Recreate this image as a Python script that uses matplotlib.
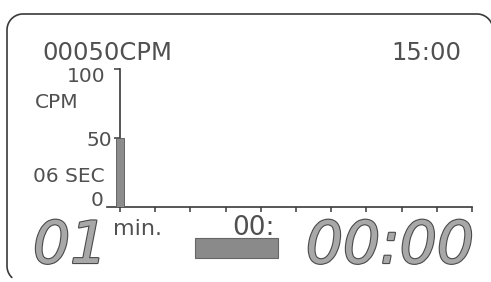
import matplotlib
matplotlib.use("Agg")
import matplotlib.pyplot as plt
from matplotlib.patches import Rectangle
import matplotlib.patheffects as pe
import numpy as np

# ---- data ----
bar_minutes = [0]
bar_cpm = [50]
x_ticks = [0, 1, 2, 3, 4, 5, 6, 7, 8, 9, 10]
y_ticks = [50, 100]
y_labels = ["50", "100"]
count_text = "00050CPM"
time_text = "15:00"
unit_text = "CPM"
interval_text = "06 SEC"
scale_text = "min."
sub_text = "00:"
big_left = "01"
big_right = "00:00"

W, H = 491, 282
fig = plt.figure(figsize=(W / 100, H / 100), dpi=100)
fig.patch.set_facecolor("white")

ink = "#3a3a3a"
txt = "#505050"
font = "DejaVu Sans"

# background/overlay axes in pixel coordinates
bg = fig.add_axes([0, 0, 1, 1])
bg.set_xlim(0, W)
bg.set_ylim(H, 0)
bg.axis("off")

# rounded frame: top edge, left edge, corners (right/bottom run off the picture)
r = 16
t = np.linspace(0, np.pi / 2, 30)
fx = np.concatenate([
    23 + r * np.sin(np.linspace(0.9, 0, 20)) * 0 + (23 - r * np.cos(np.linspace(0.8, 0, 20))) - 23,
])
# build path explicitly
seg_bl_t = np.linspace(0.8, 0, 20)
bl_x = 23 - r * np.cos(seg_bl_t)
bl_y = 266 + r * np.sin(seg_bl_t)
tl_x = 23 - r * np.cos(t)
tl_y = 30 - r * np.sin(t)
tr_t = np.linspace(0, np.pi / 2, 30)
tr_x = 477 + r * np.sin(tr_t)
tr_y = 30 - r * np.cos(tr_t)
path_x = np.concatenate([bl_x, tl_x, tr_x])
path_y = np.concatenate([bl_y, tl_y, tr_y])
bg.plot(path_x, path_y, color=ink, linewidth=1.2, solid_capstyle="round")

# chart axes
left_px, right_px, top_px, bot_px = 107, 472, 69, 207
ax = fig.add_axes([left_px / W, (H - bot_px) / H, (right_px - left_px) / W, (bot_px - top_px) / H])
ax.patch.set_alpha(0)
x0 = -13 / 35.2
ax.set_xlim(x0, 10)
ax.set_ylim(0, 100)
ax.bar(bar_minutes, bar_cpm, width=0.2, color="#8c8c8c", edgecolor="#555555", linewidth=0.6, zorder=3)
for s in ["top", "right"]:
    ax.spines[s].set_visible(False)
ax.spines["left"].set_position(("data", 0))
for s in ["left", "bottom"]:
    ax.spines[s].set_color(ink)
    ax.spines[s].set_linewidth(1.2)
ax.set_xticks(x_ticks)
ax.set_xticklabels([])
ax.set_yticks(y_ticks)
ax.set_yticklabels([])
ax.tick_params(axis="x", direction="out", length=3.8, width=1.1, color=ink)
ax.tick_params(axis="y", direction="out", length=4.5, width=1.1, color=ink)

# texts
bg.text(107, 60, count_text, fontsize=17.5, family=font, color=txt, ha="center", va="baseline")
bg.text(426, 60, time_text, fontsize=17.5, family=font, color=txt, ha="center", va="baseline")
bg.text(86, 82, y_labels[1], fontsize=14.5, family=font, color=txt, ha="center", va="baseline")
bg.text(35, 108, unit_text, fontsize=14.5, family=font, color=txt, ha="left", va="baseline")
bg.text(112, 146, y_labels[0], fontsize=14.5, family=font, color=txt, ha="right", va="baseline")
bg.text(33, 182, interval_text, fontsize=14.5, family=font, color=txt, ha="left", va="baseline")
bg.text(104, 206, "0", fontsize=14.5, family=font, color=txt, ha="right", va="baseline")
bg.text(138, 235, scale_text, fontsize=16, family=font, color=txt, ha="center", va="baseline")
bg.text(254, 235, sub_text, fontsize=19, family=font, color=txt, ha="center", va="baseline")

seg = [pe.withStroke(linewidth=1.6, foreground="#4a4a4a")]
bg.text(33, 263, big_left, fontsize=42, family=font, style="italic", color="#a8a8a8",
        ha="left", va="baseline", path_effects=seg)
bg.text(474, 263, big_right, fontsize=42, family=font, style="italic", color="#a8a8a8",
        ha="right", va="baseline", path_effects=seg)

# bar-graph block
bg.add_patch(Rectangle((195, 238), 83, 20, facecolor="#8a8a8a", edgecolor="#666666", linewidth=0.8))

fig.savefig("out.png", dpi=100)
